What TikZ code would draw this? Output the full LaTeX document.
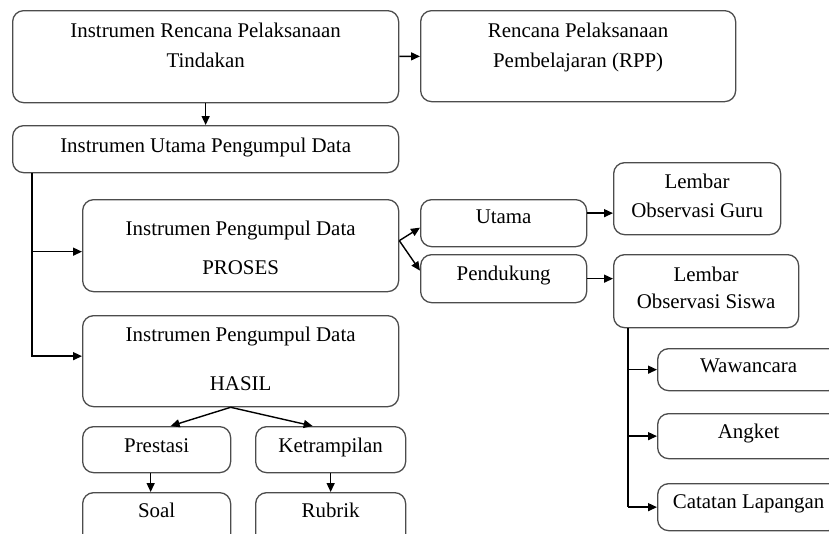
\documentclass[tikz,border=0pt]{standalone}
\usepackage{fontspec}
\setmainfont{Liberation Serif}
\usetikzlibrary{arrows.meta, positioning}

\begin{document}
\begin{tikzpicture}[x=1pt, y=-1pt,
  box/.style={draw=black!70, line width=1.3pt, rounded corners=11pt, anchor=north west,
    inner sep=0pt, align=center, font=\fontsize{20.9}{30}\selectfont},
  arr/.style={line width=1.4pt, -{Triangle[length=9pt, width=8pt]}},
  trunkline/.style={line width=1.4pt}]

  \clip (0,0) rectangle (829,533);

  % top row
  \node[box, minimum width=386pt, text height=57pt, text depth=35pt] (tindakan) at (12,10) {Instrumen Rencana Pelaksanaan\\Tindakan};
  \node[box, minimum width=315pt, text height=57pt, text depth=34pt] (rpp) at (420,10) {Rencana Pelaksanaan\\Pembelajaran (RPP)};
  \node[box, minimum width=386pt, text height=27pt, text depth=20pt] (idata) at (12,125) {Instrumen Utama Pengumpul Data};

  % proses and hasil
  \node[box, minimum width=316pt, text height=75pt, text depth=17pt, font=\fontsize{20.9}{39}\selectfont] (proses) at (82,199) {Instrumen Pengumpul Data\\PROSES};
  \node[box, minimum width=316pt, text height=75pt, text depth=16pt, font=\fontsize{20.9}{49}\selectfont] (hasil) at (82,315) {Instrumen Pengumpul Data\\HASIL};
  \node[box, minimum width=148pt, text height=26pt, text depth=20pt] (prestasi) at (82,426) {Prestasi};
  \node[box, minimum width=150pt, text height=26pt, text depth=20pt] (ketrampilan) at (255,426) {Ketrampilan};
  \node[box, minimum width=148pt, text height=25pt, text depth=40pt] (soal) at (82,492) {Soal};
  \node[box, minimum width=150pt, text height=25pt, text depth=40pt] (rubrik) at (255,492) {Rubrik};

  % right side
  \node[box, minimum width=166pt, text height=24pt, text depth=23pt] (utama) at (420,199) {Utama};
  \node[box, minimum width=166pt, text height=26pt, text depth=22pt] (pendukung) at (420,254) {Pendukung};
  \node[box, minimum width=167pt, text height=55pt, text depth=17pt, font=\fontsize{20.9}{29}\selectfont] (guru) at (613,162) {Lembar\\Observasi Guru};
  \node[box, minimum width=185pt, text height=54pt, text depth=19pt, font=\fontsize{20.9}{27}\selectfont] (siswa) at (613,254) {Lembar\\Observasi Siswa};
  \node[box, minimum width=182pt, text height=24pt, text depth=18pt] (wawancara) at (657,348) {Wawancara};
  \node[box, minimum width=182pt, text height=25pt, text depth=20pt] (angket) at (657,413) {Angket};
  \node[box, minimum width=182pt, text height=25pt, text depth=22pt] (catatan) at (657,483) {Catatan Lapangan};

  % connectors
  \draw[arr] (tindakan) -- (rpp);
  \draw[arr] (tindakan) -- (idata);

  \coordinate (trunk) at ([xshift=20pt]idata.south west);
  \coordinate (pin) at ([yshift=-6pt]proses.west);
  \draw[arr] (trunk) |- ([yshift=5pt]hasil.west);
  \draw[arr] (trunk |- pin) -- (pin);

  \draw[arr] ([yshift=5pt]proses.east) -- ([yshift=-4.5pt]utama.west);
  \draw[arr] ([yshift=5pt]proses.east) -- ([yshift=8pt]pendukung.west);
  \coordinate (uout) at ([yshift=10pt]utama.east);
  \draw[arr] (uout) -- (uout -| guru.west);
  \draw[arr] (pendukung.east) -- (pendukung.east -| siswa.west);

  \coordinate (strunk) at ([xshift=15pt]siswa.south west);
  \draw[trunkline] (strunk) -- (strunk |- catatan.west);
  \foreach \n in {wawancara, angket, catatan}
    \draw[arr] (strunk |- \n.west) -- (\n.west);

  \coordinate (hout) at ([xshift=-10pt]hasil.south);
  \draw[arr] (hout) -- ([xshift=14pt]prestasi.north);
  \draw[arr] (hout) -- ([xshift=-18pt]ketrampilan.north);
  \draw[arr] ([xshift=-6pt]prestasi.south) -- ([xshift=-6pt]soal.north);
  \draw[arr] (ketrampilan) -- (rubrik);
\end{tikzpicture}
\end{document}
